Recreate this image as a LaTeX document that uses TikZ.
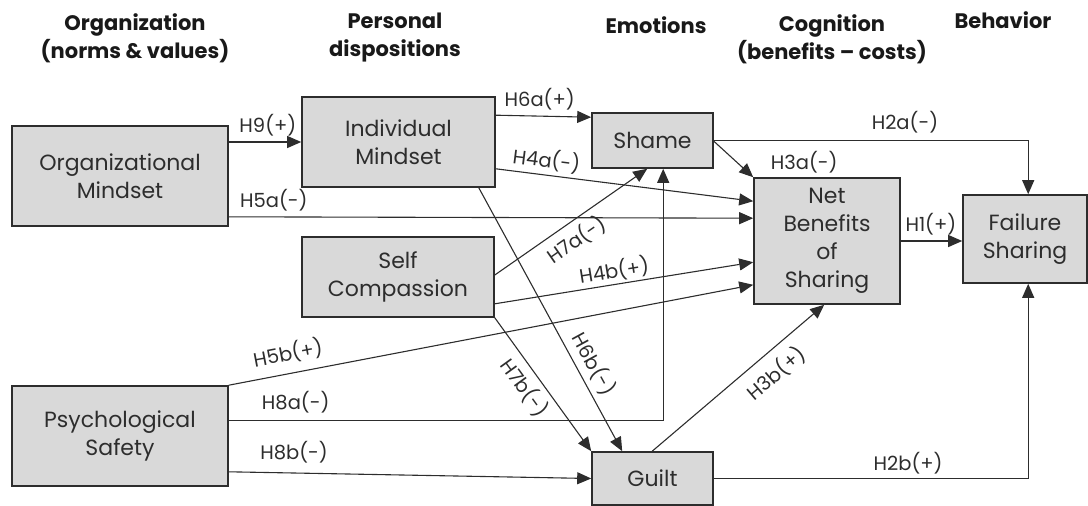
\documentclass[tikz,border=0pt]{standalone}
\usepackage{fontspec}
\setmainfont{Poppins}
\usetikzlibrary{arrows.meta}
\definecolor{boxfill}{RGB}{217,217,217}
\definecolor{ink}{RGB}{45,45,45}
\begin{document}
\begin{tikzpicture}[x=1pt,y=-1pt,
  box/.style={draw=ink, line width=1.6pt, fill=boxfill, text=ink, align=center,
    inner sep=0pt, font=\fontsize{22}{28}\selectfont},
  link/.style={draw=ink, line width=1.1pt, -{Triangle[length=14pt,width=12pt]}},
  lab/.style={text=ink, inner sep=1pt, font=\fontsize{19.5}{21}\selectfont},
  head/.style={text=black!90, align=center, inner sep=0pt,
    font=\bfseries\fontsize{21}{28}\selectfont}]
\useasboundingbox (0,0) rectangle (1088,506);

% column headings
\node[head] (h1) at (135,38) {Organization\\(norms \& values)};
\node[head] (h2) at (395,38) {Personal\\dispositions};
\node[head] (h3) at (656,25) {Emotions};
\node[head] (h4) at (832,39.5) {Cognition\\(benefits -- costs)};
\node[head] (h5) at (1003,20) {Behavior};

% constructs
\node[box, minimum width=216pt, minimum height=100pt] (om) at (120,176) {Organizational\\Mindset};
\node[box, minimum width=193pt, minimum height=90pt] (im) at (398.5,142) {Individual\\Mindset};
\node[box, minimum width=192pt, minimum height=80pt] (sc) at (398,277) {Self\\Compassion};
\node[box, minimum width=216pt, minimum height=100pt] (ps) at (120,436) {Psychological\\Safety};
\node[box, minimum width=121pt, minimum height=55pt] (sh) at (652.5,140.5) {Shame};
\node[box, minimum width=121pt, minimum height=53pt] (gu) at (652.5,478.5) {Guilt};
\node[box, minimum width=146pt, minimum height=126pt] (nb) at (827,241) {Net\\Benefits\\of\\Sharing};
\node[box, minimum width=124pt, minimum height=88pt] (fs) at (1025,239) {Failure\\Sharing};

% hypothesised paths
\draw[link] (om.east |- im.west) -- node[lab, pos=0.54, above=4.5pt] {H9(+)} (im.west);
\draw[link] ([yshift=10pt]om.south east) -- node[lab, pos=0.086, above=4pt] {H5a(-)} ([yshift=-41pt]nb.north west);
\draw[link] ([yshift=-19pt]im.north east) -- node[lab, pos=0.46, above=4pt] {H6a(+)} ([yshift=-5pt]sh.north west);
\draw[link] ([yshift=19pt]im.south east) -- node[lab, pos=0.19, sloped, above=2.5pt] {H4a(-)} ([yshift=-24pt]nb.north west);
\draw[link] ([xshift=-17pt]im.south east) -- node[lab, pos=0.70, sloped, above=4.5pt] {H6b(-)} ([xshift=31pt]gu.north west);
\draw[link] ([yshift=2pt]sc.east) -- node[lab, pos=0.47, sloped, below=5.5pt] {H7a(-)} ([xshift=56pt]sh.south west);
\draw[link] ([yshift=14pt]sc.south east) -- node[lab, pos=0.47, sloped, above=1pt] {H4b(+)} ([yshift=-85pt]nb.north west);
\draw[link] (ps.north east) -- node[lab, pos=0.12, sloped, above=7.5pt] {H5b(+)} ([yshift=20pt]nb.south west);
\draw[link] ([yshift=-35pt]ps.north east) -| node[lab, pos=0.077, above=5.5pt] {H8a(-)} ([xshift=72pt]sh.south west);
\draw[link] ([yshift=15pt]ps.south east) -- node[lab, pos=0.18, above=8.5pt] {H8b(-)} (gu.west);
\draw[link] (sc.south east) -- node[lab, pos=0.45, sloped, below=4.5pt] {H7b(-)} (gu.north west);
\draw[link] ([yshift=-29pt]sh.north east) -- node[lab, at end, xshift=51pt, yshift=15pt] {H3a(-)} (nb.north west);
\draw[link] (sh.east) -| node[lab, pos=0.304, above=5.5pt] {H2a(-)} ([xshift=66pt]fs.north west);
\draw[link] (nb.east) -- node[lab, pos=0.49, above=4pt] {H1(+)} (fs.west |- nb.east);
\draw[link] ([xshift=61pt]gu.north west) -- node[lab, pos=0.64, sloped, below=8.5pt] {H3b(+)} ([xshift=71pt]nb.south west);
\draw[link] (gu.east) -| node[lab, pos=0.309, above=3pt] {H2b(+)} ([xshift=66pt]fs.south west);
\end{tikzpicture}
\end{document}
